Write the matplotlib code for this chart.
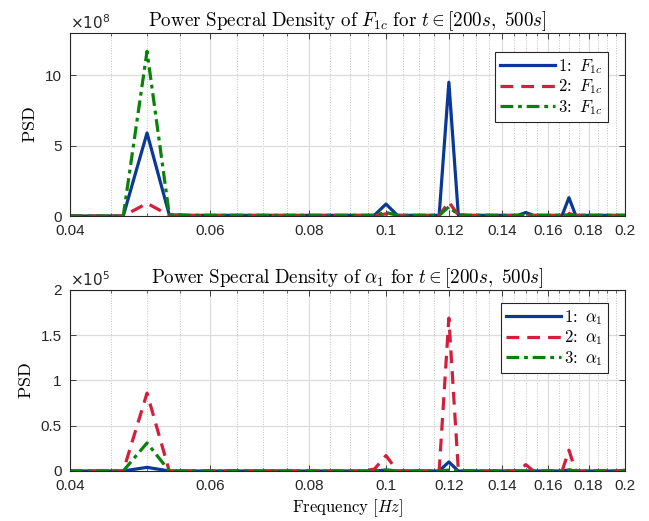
import numpy as np
import matplotlib
matplotlib.use('Agg')
import matplotlib.pyplot as plt
from matplotlib.ticker import FixedLocator, FixedFormatter

plt.rcParams.update({
    "font.family": "sans-serif",
    "font.sans-serif": ["Liberation Sans", "DejaVu Sans"],
    "mathtext.fontset": "cm",
    "font.size": 11,
    "xtick.direction": "in",
    "ytick.direction": "in",
    "xtick.top": True,
    "ytick.right": True,
})

# frequency grid: 300 s window -> 1/300 Hz resolution, 0.04 .. 0.2 Hz
freq = [k / 300 for k in range(12, 61)]

# PSD of F_1c (x 1e8); index 3 = 0.05, 18 = 0.1, 24 = 0.12, 33 = 0.15, 39 = 0.17
f1c_1 = [0, 0, 0, 5.9, 0.08, 0.05, 0.05, 0.05, 0.05, 0.05, 0.05, 0.05, 0.05, 0.05,
         0.05, 0.05, 0.05, 0.05, 0.85, 0.05, 0.05, 0.05, 0.05, 0.05, 9.5, 0.08,
         0.05, 0.05, 0.05, 0.05, 0.05, 0.05, 0.05, 0.25, 0.05, 0.05, 0.05, 0.05,
         0.05, 1.3, 0.05, 0.05, 0.05, 0.05, 0.05, 0.05, 0.05, 0.05, 0.05]
f1c_2 = [0, 0, 0, 0.9, 0.05, 0.03, 0.03, 0.03, 0.03, 0.03, 0.03, 0.03, 0.03, 0.03,
         0.03, 0.03, 0.03, 0.03, 0.15, 0.03, 0.03, 0.03, 0.03, 0.03, 1.0, 0.05,
         0.03, 0.03, 0.03, 0.03, 0.03, 0.03, 0.03, 0.05, 0.03, 0.03, 0.03, 0.03,
         0.03, 0.18, 0.03, 0.03, 0.03, 0.03, 0.03, 0.03, 0.03, 0.03, 0.03]
f1c_3 = [0, 0, 0, 11.7, 0.1, 0.05, 0.05, 0.05, 0.05, 0.05, 0.05, 0.05, 0.05, 0.05,
         0.05, 0.05, 0.05, 0.05, 0.25, 0.05, 0.05, 0.05, 0.05, 0.05, 0.65, 0.08,
         0.05, 0.05, 0.05, 0.05, 0.05, 0.05, 0.05, 0.05, 0.05, 0.05, 0.05, 0.05,
         0.05, 0.1, 0.05, 0.05, 0.05, 0.05, 0.05, 0.05, 0.05, 0.05, 0.05]

# PSD of alpha_1 (x 1e5)
a1_1 = [0, 0, 0, 0.04, 0, 0, 0, 0, 0, 0, 0, 0, 0, 0, 0, 0, 0, 0, 0.01, 0, 0, 0, 0, 0,
        0.1, 0, 0, 0, 0, 0, 0, 0, 0, 0, 0, 0, 0, 0, 0, 0.01, 0, 0, 0, 0, 0, 0, 0, 0, 0]
a1_2 = [0, 0, 0, 0.86, 0, 0, 0, 0, 0, 0, 0, 0, 0, 0, 0, 0, 0, 0.02, 0.17, 0, 0, 0, 0, 0,
        1.69, 0.01, 0, 0, 0, 0, 0, 0, 0, 0.07, 0, 0, 0, 0, 0, 0.23, 0, 0, 0, 0, 0, 0, 0, 0, 0.01]
a1_3 = [0, 0, 0, 0.31, 0, 0, 0, 0, 0, 0, 0, 0, 0, 0, 0, 0, 0, 0, 0.01, 0, 0, 0, 0, 0,
        0.01, 0, 0, 0, 0, 0, 0, 0, 0, 0, 0, 0, 0, 0, 0, 0.01, 0, 0, 0, 0, 0, 0, 0, 0, 0]

xticks = [0.04, 0.06, 0.08, 0.1, 0.12, 0.14, 0.16, 0.18, 0.2]
xtick_labels = ['0.04', '0.06', '0.08', '0.1', '0.12', '0.14', '0.16', '0.18', '0.2']
minor_ticks = [t / 1000 for t in range(45, 200, 5)]

colors = ['#0a3896', '#d41f3c', '#0a820a']
styles = ['-', (0, (4, 2.5)), (0, (4, 1.5, 1.2, 1.5))]

fig = plt.figure(figsize=(6.49, 5.21), dpi=100)
ax1 = fig.add_axes([0.108, 0.5854, 0.855, 0.3513])
ax2 = fig.add_axes([0.108, 0.096, 0.855, 0.3474])


def style_axis(ax, ymax, yticks, ylabels, exp):
    ax.set_xscale('log')
    ax.set_xlim(0.04, 0.2)
    ax.set_ylim(0, ymax)
    ax.xaxis.set_major_locator(FixedLocator(xticks))
    ax.xaxis.set_major_formatter(FixedFormatter(xtick_labels))
    ax.xaxis.set_minor_locator(FixedLocator([m for m in minor_ticks if m not in xticks]))
    ax.xaxis.set_minor_formatter(FixedFormatter([]))
    ax.set_yticks(yticks)
    ax.set_yticklabels(ylabels)
    ax.grid(True, which='major', color='#dcdcdc', lw=0.9, ls='-')
    ax.grid(True, which='minor', axis='x', color='#c0c0c0', lw=0.7, ls=':')
    ax.set_axisbelow(True)
    for s in ax.spines.values():
        s.set_color('#262626')
        s.set_linewidth(0.8)
    ax.tick_params(which='major', length=4, width=0.6, colors='#262626', labelsize=11, pad=6)
    ax.tick_params(which='minor', length=2, width=0.5, colors='#262626')
    ax.text(0.0, 1.005, r'$\times 10^{%d}$' % exp, transform=ax.transAxes,
            fontsize=11, color='#262626', ha='left', va='bottom',
            math_fontfamily='dejavusans')
    ax.set_ylabel(r'$\mathrm{PSD}$', fontsize=13, labelpad=4)


def add_legend(ax, anchor):
    leg = ax.legend(loc='upper right', bbox_to_anchor=anchor, borderaxespad=0,
                    fontsize=12, fancybox=False, edgecolor='#262626', framealpha=1,
                    handlelength=3.3, borderpad=0.3, labelspacing=0.1, handletextpad=0.2)
    leg.get_frame().set_linewidth(0.8)


for ys, c, st, n in zip([f1c_1, f1c_2, f1c_3], colors, styles, [1, 2, 3]):
    ax1.plot(freq, ys, color=c, ls=st, lw=2.3, label=r'$\mathrm{%d\!:}\ F_{1c}$' % n)
style_axis(ax1, 13, [0, 5, 10], ['0', '5', '10'], 8)
ax1.set_title(r'$\mathrm{Power\ Specral\ Density\ of\ }F_{1c}\mathrm{\ for\ }t\in[200s,\ 500s]$',
              fontsize=13.7, pad=3)
add_legend(ax1, (0.969, 0.896))

for ys, c, st, n in zip([a1_1, a1_2, a1_3], colors, styles, [1, 2, 3]):
    ax2.plot(freq, ys, color=c, ls=st, lw=2.3, label=r'$\mathrm{%d\!:}\ \alpha_1$' % n)
style_axis(ax2, 2, [0, 0.5, 1, 1.5, 2], ['0', '0.5', '1', '1.5', '2'], 5)
ax2.set_title(r'$\mathrm{Power\ Specral\ Density\ of\ }\alpha_1\mathrm{\ for\ }t\in[200s,\ 500s]$',
              fontsize=13.7, pad=3)
ax2.set_xlabel(r'$\mathrm{Frequency}\ [Hz]$', fontsize=12, labelpad=3)
add_legend(ax2, (0.969, 0.928))

fig.savefig('out.png', dpi=100)
